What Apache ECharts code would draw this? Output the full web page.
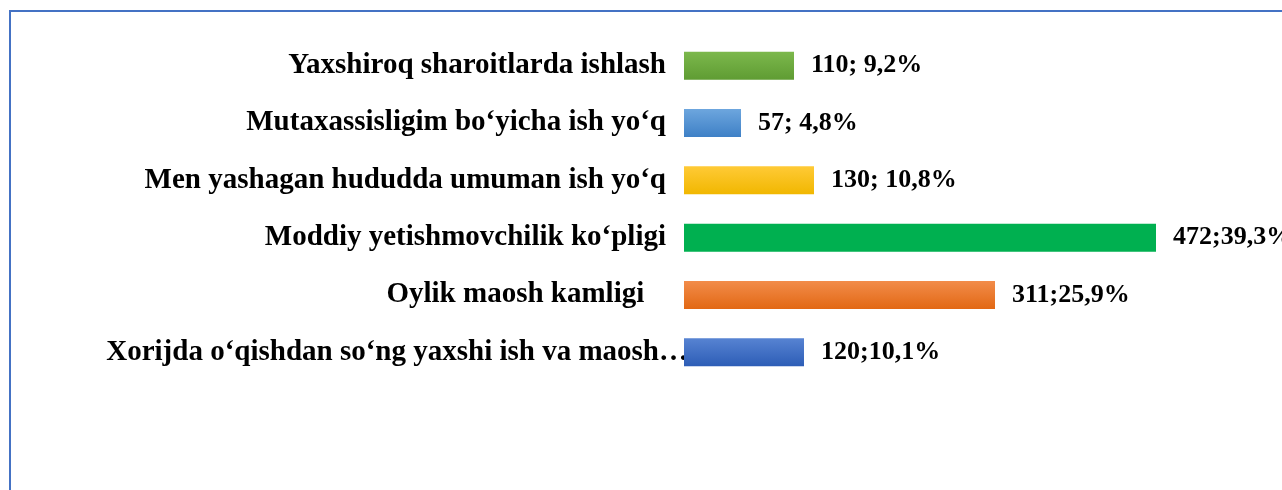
<!DOCTYPE html>
<html>
<head>
<meta charset="utf-8">
<script src="https://cdn.jsdelivr.net/npm/echarts@6/dist/echarts.min.js"></script>
<style>
  html, body { margin: 0; padding: 0; background: #fff; }
  #main { width: 1282px; height: 490px; }
</style>
</head>
<body>
<div id="main"></div>
<script>
// reasons, top to bottom as drawn
const categories = [
  'Yaxshiroq sharoitlarda ishlash',
  'Mutaxassisligim bo‘yicha ish yo‘q',
  'Men yashagan hududda umuman ish yo‘q',
  'Moddiy yetishmovchilik ko‘pligi',
  'Oylik maosh kamligi   ',
  'Xorijda o‘qishdan so‘ng yaxshi ish va maosh…'
];
const counts = [110, 57, 130, 472, 311, 120];
const valueLabels = ['110; 9,2%', '57; 4,8%', '130; 10,8%', '472;39,3%', '311;25,9%', '120;10,1%'];

// top / bottom gradient colours per bar
const barColors = [
  ['#7cb84c', '#5f9c33'],
  ['#6da6de', '#3e80c6'],
  ['#ffca36', '#f1b700'],
  ['#00b050', '#00b050'],
  ['#f28c4a', '#e26814'],
  ['#5783d2', '#2d5db6']
];

const chart = echarts.init(document.getElementById('main'));

const seriesData = counts.map((v, i) => ({
  value: v,
  itemStyle: {
    color: new echarts.graphic.LinearGradient(0, 0, 0, 1, [
      { offset: 0, color: barColors[i][0] },
      { offset: 1, color: barColors[i][1] }
    ])
  },
  label: { formatter: valueLabels[i] }
}));

const option = {
  animation: false,
  backgroundColor: '#fff',
  graphic: [{
    type: 'rect',
    shape: { x: 10, y: 11, width: 1400, height: 600 },
    style: { fill: 'none', stroke: '#4472c4', lineWidth: 2 },
    silent: true
  }],
  grid: { left: 684, right: 98, top: 37, bottom: 109 },
  xAxis: {
    type: 'value',
    min: 0,
    max: 500,
    show: false
  },
  yAxis: {
    type: 'category',
    data: categories,
    inverse: true,
    axisLine: { show: false },
    axisTick: { show: false },
    axisLabel: {
      margin: 18,
      color: '#000',
      fontFamily: 'Liberation Serif',
      fontWeight: 'bold',
      fontSize: 29,
      // the long last label runs right up to its bar
      formatter: (v, i) => i === categories.length - 1 ? '{o|' + v + '}' : v,
      rich: {
        o: {
          color: '#000',
          fontFamily: 'Liberation Serif',
          fontWeight: 'bold',
          fontSize: 29,
          padding: [0, -22, 0, 0]
        }
      }
    }
  },
  series: [{
    type: 'bar',
    data: seriesData,
    barWidth: 28,
    label: {
      show: true,
      position: 'right',
      distance: 17,
      color: '#000',
      fontFamily: 'Liberation Serif',
      fontWeight: 'bold',
      fontSize: 26
    }
  }]
};

chart.setOption(option);
</script>
</body>
</html>
